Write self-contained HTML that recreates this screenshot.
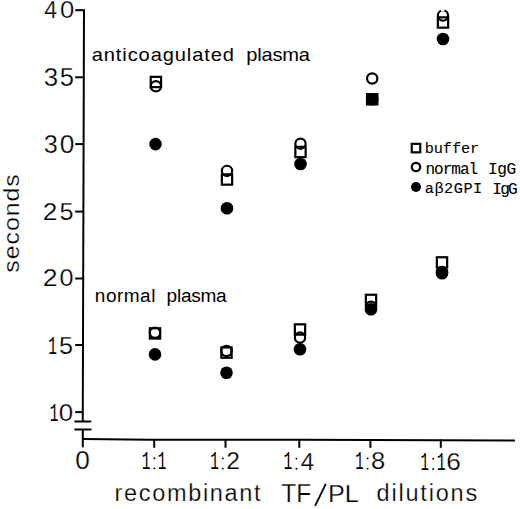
<!DOCTYPE html>
<html><head><meta charset="utf-8"><style>
html,body{margin:0;padding:0;background:#fff;}
svg{display:block;}
text{font-family:"Liberation Sans", sans-serif;fill:#000;stroke:#fff;stroke-width:0.25px;}
</style></head><body>
<svg width="520" height="509" viewBox="0 0 520 509">
<rect width="520" height="509" fill="#fff"/>
<line x1="84.00" y1="9.20" x2="82.75" y2="421.50" stroke="#000" stroke-width="2"/>
<line x1="82.80" y1="429.50" x2="82.80" y2="447.30" stroke="#000" stroke-width="2"/>
<line x1="74.40" y1="421.50" x2="91.30" y2="421.50" stroke="#000" stroke-width="2"/>
<line x1="74.40" y1="429.50" x2="91.50" y2="429.50" stroke="#000" stroke-width="2"/>
<polyline points="82.8,439.1 150,439.65 300,439.8 514.9,440.5" fill="none" stroke="#000" stroke-width="2"/>
<line x1="75.20" y1="10.20" x2="84.50" y2="10.20" stroke="#000" stroke-width="2"/>
<line x1="75.20" y1="77.30" x2="84.29" y2="77.30" stroke="#000" stroke-width="2"/>
<line x1="75.20" y1="144.10" x2="84.09" y2="144.10" stroke="#000" stroke-width="2"/>
<line x1="75.20" y1="211.60" x2="83.89" y2="211.60" stroke="#000" stroke-width="2"/>
<line x1="75.20" y1="278.50" x2="83.68" y2="278.50" stroke="#000" stroke-width="2"/>
<line x1="75.20" y1="345.00" x2="83.48" y2="345.00" stroke="#000" stroke-width="2"/>
<line x1="75.20" y1="412.10" x2="83.28" y2="412.10" stroke="#000" stroke-width="2"/>
<line x1="154.20" y1="439.50" x2="154.20" y2="447.80" stroke="#000" stroke-width="2"/>
<line x1="225.50" y1="439.50" x2="225.50" y2="447.80" stroke="#000" stroke-width="2"/>
<line x1="299.30" y1="439.50" x2="299.30" y2="447.80" stroke="#000" stroke-width="2"/>
<line x1="370.40" y1="439.50" x2="370.40" y2="447.80" stroke="#000" stroke-width="2"/>
<line x1="440.80" y1="439.50" x2="440.80" y2="447.80" stroke="#000" stroke-width="2"/>
<rect x="150.75" y="76.85" width="10.3" height="10.3" fill="none" stroke="#000" stroke-width="2.2"/>
<circle cx="155.9" cy="86.3" r="5.15" fill="none" stroke="#000" stroke-width="2.2"/>
<circle cx="155.5" cy="144.1" r="6.3" fill="#000"/>
<circle cx="227" cy="170.9" r="5.15" fill="none" stroke="#000" stroke-width="2.2"/>
<rect x="221.85" y="174.35" width="10.3" height="10.3" fill="none" stroke="#000" stroke-width="2.2"/>
<circle cx="227" cy="208.2" r="6.3" fill="#000"/>
<circle cx="300.5" cy="143.7" r="5.15" fill="none" stroke="#000" stroke-width="2.2"/>
<rect x="295.35" y="146.85" width="10.3" height="10.3" fill="none" stroke="#000" stroke-width="2.2"/>
<circle cx="300.5" cy="164" r="6.3" fill="#000"/>
<circle cx="372.2" cy="78.5" r="5.15" fill="none" stroke="#000" stroke-width="2.2"/>
<rect x="367.05" y="94.15" width="10.3" height="10.3" fill="#000" stroke="#000" stroke-width="2.2"/>
<circle cx="372.2" cy="99.3" r="6.3" fill="#000"/>
<circle cx="443" cy="15.6" r="5.15" fill="none" stroke="#000" stroke-width="2.2"/>
<rect x="437.85" y="17.35" width="10.3" height="10.3" fill="none" stroke="#000" stroke-width="2.2"/>
<circle cx="443" cy="39" r="6.3" fill="#000"/>
<rect x="149.85" y="328.25" width="10.3" height="10.3" fill="none" stroke="#000" stroke-width="2.2"/>
<circle cx="155" cy="332.8" r="5.15" fill="none" stroke="#000" stroke-width="2.2"/>
<circle cx="155" cy="354.4" r="6.3" fill="#000"/>
<rect x="221.35" y="347.45" width="10.3" height="10.3" fill="none" stroke="#000" stroke-width="2.2"/>
<circle cx="226.5" cy="351" r="5.15" fill="none" stroke="#000" stroke-width="2.2"/>
<circle cx="226.5" cy="372.7" r="6.3" fill="#000"/>
<rect x="294.85" y="324.35" width="10.3" height="10.3" fill="none" stroke="#000" stroke-width="2.2"/>
<circle cx="300" cy="337.6" r="5.15" fill="none" stroke="#000" stroke-width="2.2"/>
<circle cx="300" cy="349.2" r="6.3" fill="#000"/>
<rect x="365.85" y="294.75" width="10.3" height="10.3" fill="none" stroke="#000" stroke-width="2.2"/>
<circle cx="371" cy="306.7" r="5.15" fill="none" stroke="#000" stroke-width="2.2"/>
<circle cx="371" cy="309.3" r="6.3" fill="#000"/>
<rect x="436.85" y="257.25" width="10.3" height="10.3" fill="none" stroke="#000" stroke-width="2.2"/>
<circle cx="442" cy="272" r="5.15" fill="none" stroke="#000" stroke-width="2.2"/>
<circle cx="442" cy="273.3" r="6.3" fill="#000"/>
<rect x="411.75" y="143.85" width="8.5" height="8.5" fill="none" stroke="#000" stroke-width="2.2"/>
<circle cx="416" cy="167" r="4.2" fill="none" stroke="#000" stroke-width="2.2"/>
<circle cx="416" cy="187" r="5" fill="#000"/>
<text id="x0" x="75.25" y="468.85" font-size="25.15" textLength="14.56" lengthAdjust="spacingAndGlyphs">0</text>
<text id="seconds" transform="translate(18.50,272.70) rotate(-90) scale(1.12,1)" font-size="22.20" textLength="87.89" lengthAdjust="spacing">seconds</text>
<text id="buffer" x="424.75" y="153.10" font-size="15.30" textLength="54.41" lengthAdjust="spacing" style="stroke-width:0.1px;stroke:#000;font-family:'Liberation Mono',monospace;">buffer</text>
<text id="w_recomb" x="114.50" y="501.40" font-size="23.50" textLength="146.14" lengthAdjust="spacing">recombinant</text>
<text id="w_dil" x="376.50" y="501.40" font-size="23.50" textLength="100.76" lengthAdjust="spacing">dilutions</text>
<text id="w_antico" transform="translate(91.75,60.90) scale(1.08,1)" font-size="18.60" textLength="131.66" lengthAdjust="spacing" style="stroke-width:0px;">anticoagulated</text>
<text id="w_plasma1" transform="translate(246.25,60.90) scale(1.08,1)" font-size="18.60" textLength="59.03" lengthAdjust="spacing" style="stroke-width:0px;">plasma</text>
<text id="w_normal" transform="translate(94.85,301.80) scale(1.08,1)" font-size="17.60" textLength="56.03" lengthAdjust="spacing" style="stroke-width:0px;">normal</text>
<text id="w_plasma2" transform="translate(166.60,301.80) scale(1.08,1)" font-size="17.60" textLength="55.55" lengthAdjust="spacing" style="stroke-width:0px;">plasma</text>
<text id="w_normal2" x="425.40" y="173.50" font-size="16.00" textLength="52.71" lengthAdjust="spacing" style="stroke-width:0.1px;stroke:#000;font-family:'Liberation Mono',monospace;">normal</text>
<text id="w_igg1" x="487.95" y="173.70" font-size="16.20" textLength="28.21" lengthAdjust="spacing" style="stroke-width:0.1px;stroke:#000;font-family:'Liberation Mono',monospace;">IgG</text>
<text id="w_ab2" x="424.75" y="193.10" font-size="15.30" textLength="57.50" lengthAdjust="spacing" style="stroke-width:0.1px;stroke:#000;font-family:'Liberation Mono',monospace;">a&#946;2GPI</text>
<text id="w_igg2" x="492.35" y="193.50" font-size="16.20" textLength="25.43" lengthAdjust="spacing" style="stroke-width:0.1px;stroke:#000;font-family:'Liberation Mono',monospace;">IgG</text>
<text id="g11a" x="141.75" y="469.00" font-size="25.32" textLength="8.68" lengthAdjust="spacingAndGlyphs" style="stroke-width:0.0px;font-family:'Liberation Mono',monospace;">1</text>
<text id="g11b" x="157.75" y="469.00" font-size="25.32" textLength="8.60" lengthAdjust="spacingAndGlyphs" style="stroke-width:0.0px;font-family:'Liberation Mono',monospace;">1</text>
<text id="g12a" x="210.25" y="469.00" font-size="25.09" textLength="8.63" lengthAdjust="spacingAndGlyphs" style="stroke-width:0.0px;font-family:'Liberation Mono',monospace;">1</text>
<text id="g12b" x="226.25" y="469.25" font-size="24.23" textLength="13.64" lengthAdjust="spacingAndGlyphs">2</text>
<text id="g14a" x="283.50" y="469.25" font-size="24.87" textLength="8.88" lengthAdjust="spacingAndGlyphs" style="stroke-width:0.0px;font-family:'Liberation Mono',monospace;">1</text>
<text id="g14b" x="300.75" y="469.50" font-size="24.40" textLength="13.37" lengthAdjust="spacingAndGlyphs">4</text>
<text id="g18a" x="355.25" y="469.00" font-size="25.09" textLength="8.49" lengthAdjust="spacingAndGlyphs" style="stroke-width:0.0px;font-family:'Liberation Mono',monospace;">1</text>
<text id="g18b" x="371.00" y="469.00" font-size="23.86" textLength="14.25" lengthAdjust="spacingAndGlyphs">8</text>
<text id="g116a" x="420.50" y="469.50" font-size="25.32" textLength="8.42" lengthAdjust="spacingAndGlyphs" style="stroke-width:0.0px;font-family:'Liberation Mono',monospace;">1</text>
<text id="g116b" x="436.75" y="469.50" font-size="25.32" textLength="8.89" lengthAdjust="spacingAndGlyphs" style="stroke-width:0.0px;font-family:'Liberation Mono',monospace;">1</text>
<text id="g116c" x="446.25" y="469.50" font-size="24.08" textLength="14.65" lengthAdjust="spacingAndGlyphs">6</text>
<text id="w_tf" x="281.25" y="501.75" font-size="25.59" textLength="29.91" lengthAdjust="spacingAndGlyphs">TF</text>
<text id="w_pl" x="328.00" y="501.60" font-size="24.62" textLength="30.82" lengthAdjust="spacingAndGlyphs">PL</text>
<text id="g40a" x="44.30" y="18.25" font-size="24.47" textLength="12.81" lengthAdjust="spacingAndGlyphs">4</text>
<text id="g40b" x="60.10" y="18.35" font-size="24.58" textLength="14.27" lengthAdjust="spacingAndGlyphs">0</text>
<text id="g35a" x="43.80" y="85.70" font-size="25.02" textLength="14.42" lengthAdjust="spacingAndGlyphs">3</text>
<text id="g35b" x="59.75" y="85.70" font-size="24.97" textLength="14.22" lengthAdjust="spacingAndGlyphs">5</text>
<text id="g30a" x="43.80" y="152.70" font-size="25.02" textLength="14.06" lengthAdjust="spacingAndGlyphs">3</text>
<text id="g30b" x="59.75" y="152.70" font-size="25.02" textLength="14.63" lengthAdjust="spacingAndGlyphs">0</text>
<text id="g25a" x="42.85" y="219.95" font-size="24.53" textLength="14.58" lengthAdjust="spacingAndGlyphs">2</text>
<text id="g25b" x="59.45" y="219.70" font-size="24.53" textLength="14.06" lengthAdjust="spacingAndGlyphs">5</text>
<text id="g20a" x="42.70" y="286.25" font-size="24.53" textLength="14.83" lengthAdjust="spacingAndGlyphs">2</text>
<text id="g20b" x="59.45" y="286.00" font-size="24.15" textLength="14.03" lengthAdjust="spacingAndGlyphs">0</text>
<text id="g15a" x="48.15" y="353.70" font-size="25.77" textLength="8.66" lengthAdjust="spacingAndGlyphs" style="stroke-width:0px;font-family:'Liberation Mono',monospace;">1</text>
<text id="g15b" x="59.10" y="353.70" font-size="24.53" textLength="14.06" lengthAdjust="spacingAndGlyphs">5</text>
<text id="g10a" x="49.85" y="420.70" font-size="25.77" textLength="8.66" lengthAdjust="spacingAndGlyphs" style="stroke-width:0px;font-family:'Liberation Mono',monospace;">1</text>
<text id="g10b" x="58.75" y="420.70" font-size="24.58" textLength="14.39" lengthAdjust="spacingAndGlyphs">0</text>
<circle cx="154.4" cy="458.2" r="0.95" fill="#000"/><circle cx="154.4" cy="468.4" r="0.95" fill="#000"/>
<circle cx="222.8" cy="458.4" r="0.95" fill="#000"/><circle cx="222.8" cy="468.6" r="0.95" fill="#000"/>
<circle cx="296.4" cy="458.6" r="0.95" fill="#000"/><circle cx="296.4" cy="468.8" r="0.95" fill="#000"/>
<circle cx="367.6" cy="458.4" r="0.95" fill="#000"/><circle cx="367.6" cy="468.6" r="0.95" fill="#000"/>
<circle cx="433.2" cy="458.8" r="0.95" fill="#000"/><circle cx="433.2" cy="469" r="0.95" fill="#000"/>
<rect x="440.8" y="8.3" width="3.6" height="3.2" fill="#fff"/>
<line x1="315.1" y1="505.9" x2="325.8" y2="483.8" stroke="#000" stroke-width="1.8"/>
</svg></body></html>
